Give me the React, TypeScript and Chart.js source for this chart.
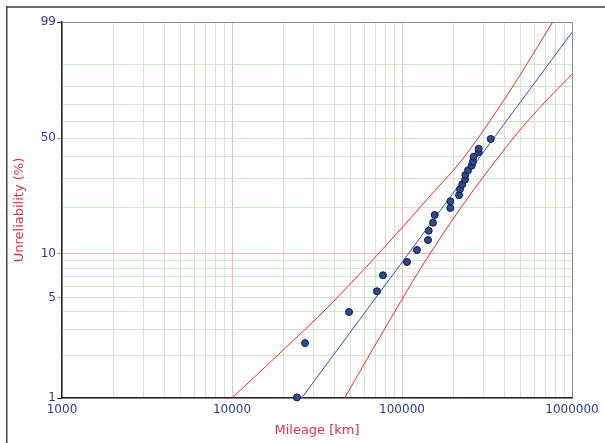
import React, { useEffect, useRef } from "react";
import { Chart, registerables } from "chart.js";
Chart.register(...registerables);

// Observed failures (plotting positions)
const pointMileage = [24100, 26900, 48800, 71300, 77300, 107000, 122500, 142200, 143600, 152200, 155700, 192400, 192400, 216400, 219300, 226300, 234800, 235800, 244500, 257000, 261600, 264100, 282600, 282600, 332500];
const pointUnreliability = [1.01, 2.43, 4.0, 5.56, 7.16, 8.81, 10.6, 12.36, 14.23, 16.06, 17.99, 19.93, 21.95, 23.92, 26.03, 27.89, 29.71, 31.66, 33.7, 35.77, 37.68, 40.11, 42.36, 44.23, 49.57];
// Fitted Weibull line
const fitMileage = [25700, 1000000];
const fitUnreliability = [1.0, 97.96];
// Confidence bounds
const upperMileage = [10000, 19160, 37720, 97330, 146100, 225400, 377200, 494300, 770100];
const upperUnreliability = [1.0, 2.07, 4.47, 14.39, 23.68, 38.5, 69.0, 85.6, 99.0];
const lowerMileage = [46000, 64830, 84900, 127600, 219300, 377200, 494300, 693700, 1000000];
const lowerUnreliability = [1.0, 2.04, 3.52, 7.85, 19.64, 40.98, 54.7, 71.36, 86.0];

// Axis ticks
const yGridPercents = [1, 2, 3, 4, 5, 6, 7, 8, 9, 10, 20, 30, 40, 50, 60, 70, 80, 90, 99];
const yLabelPercents = [1, 5, 10, 50, 99];
const xDecades = [1000, 10000, 100000];
const xMax = 1000000;

const weib = (p: number) => Math.log(-Math.log(1 - p / 100));

const LABEL = "#2d3a8c";
const TITLE = "#e0304e";
const GREEN = "#cfe8c8";
const PINK = "#f7b8bd";
const EDGE = "#8a8a8a";
const FONT = "'DejaVu Sans', Verdana, sans-serif";

function pairs(xs: number[], ys: number[]) {
  return xs.map((x, i) => ({ x, y: weib(ys[i]) }));
}

const framePlugin = {
  id: "frame",
  beforeDraw(chart: any) {
    const ctx = chart.ctx;
    ctx.save();
    ctx.fillStyle = "#6e6e6e";
    ctx.fillRect(6, 6, 620, 2);
    ctx.fillStyle = "#444";
    ctx.fillRect(6, 6, 1.5, 460);
    ctx.restore();
  },
};

export default function App() {
  const ref = useRef<HTMLCanvasElement | null>(null);
  useEffect(() => {
    if (!ref.current) return;
    const xGrid: number[] = [];
    xDecades.forEach((d) => {
      for (let k = 1; k <= 9; k++) xGrid.push(k * d);
    });
    xGrid.push(xMax);

    const chart = new Chart(ref.current, {
      type: "scatter",
      data: {
        datasets: [
          {
            label: "data",
            data: pairs(pointMileage, pointUnreliability),
            backgroundColor: "#2c4a8e",
            borderColor: "#151a40",
            borderWidth: 1,
            pointRadius: 3.5,
            showLine: false,
            clip: false as any,
            order: 0,
          },
          {
            label: "fit",
            data: pairs(fitMileage, fitUnreliability),
            borderColor: "#3550ac",
            borderWidth: 1,
            pointRadius: 0,
            showLine: true,
            order: 1,
          },
          {
            label: "upper",
            data: pairs(upperMileage, upperUnreliability),
            borderColor: "#f02828",
            borderWidth: 1,
            pointRadius: 0,
            showLine: true,
            cubicInterpolationMode: "monotone",
            order: 1,
          },
          {
            label: "lower",
            data: pairs(lowerMileage, lowerUnreliability),
            borderColor: "#f02828",
            borderWidth: 1,
            pointRadius: 0,
            showLine: true,
            cubicInterpolationMode: "monotone",
            order: 1,
          },
        ] as any,
      },
      options: {
        animation: false,
        responsive: false,
        maintainAspectRatio: false,
        layout: { padding: { left: 0, top: 22, right: 33, bottom: 0 } },
        plugins: { legend: { display: false }, tooltip: { enabled: false } },
        scales: {
          x: {
            type: "logarithmic",
            min: 1000,
            max: xMax,
            afterBuildTicks: (s: any) => {
              s.ticks = xGrid.map((v) => ({ value: v }));
            },
            afterFit: (s: any) => {
              s.height = 45;
            },
            ticks: {
              autoSkip: false,
              maxRotation: 0,
              padding: 5,
              color: LABEL,
              font: { family: FONT, size: 12 },
              callback: (v: any) => {
                const l = Math.log10(Number(v));
                return Math.abs(l - Math.round(l)) < 1e-9 ? String(Math.round(Number(v))) : "";
              },
            },
            grid: {
              drawTicks: false,
              lineWidth: 1,
              color: (c: any) => {
                const v = c.tick ? c.tick.value : 0;
                if (v === 10000 || v === 100000) return PINK;
                if (v === xMax) return EDGE;
                return GREEN;
              },
            },
            border: { display: true, color: "#222", width: 1.5 },
            title: {
              display: true,
              text: "Mileage [km]",
              color: TITLE,
              font: { family: FONT, size: 13 },
              padding: { top: 0, bottom: 5 },
            },
          },
          y: {
            type: "linear",
            min: weib(1),
            max: weib(99),
            afterBuildTicks: (s: any) => {
              s.ticks = yGridPercents.map((p) => ({ value: weib(p) }));
            },
            afterFit: (s: any) => {
              s.width = 62;
            },
            ticks: {
              autoSkip: false,
              padding: 1,
              color: LABEL,
              font: { family: FONT, size: 12 },
              callback: (_v: any, i: number) => {
                const p = yGridPercents[i];
                return yLabelPercents.includes(p) ? String(p) : "";
              },
            },
            grid: {
              drawTicks: true,
              tickLength: 5,
              lineWidth: 1,
              color: (c: any) => {
                const p = yGridPercents[c.index];
                if (p === 10) return PINK;
                if (p === 99) return EDGE;
                return GREEN;
              },
              tickColor: (c: any) => {
                const p = yGridPercents[c.index];
                if (p === 99 || p === 1) return "#333";
                if (yLabelPercents.includes(p)) return "#f08a90";
                return "rgba(0,0,0,0)";
              },
            },
            border: { display: true, color: "#222", width: 1.5 },
            title: {
              display: true,
              text: "Unreliability (%)",
              color: TITLE,
              font: { family: FONT, size: 13 },
              padding: { top: 12, bottom: 0 },
            },
          },
        },
      } as any,
      plugins: [framePlugin],
    });
    return () => chart.destroy();
  }, []);

  return (
    <div style={{ position: "fixed", left: 0, top: 0, width: 605, height: 443, overflow: "hidden", background: "#fff" }}>
      <canvas ref={ref} width={605} height={443} style={{ display: "block", width: 605, height: 443 }} />
    </div>
  );
}
